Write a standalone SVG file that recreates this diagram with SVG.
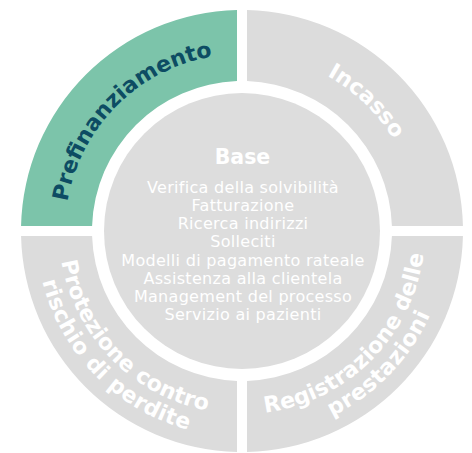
<svg xmlns="http://www.w3.org/2000/svg" xmlns:xlink="http://www.w3.org/1999/xlink" width="472" height="453" viewBox="0 0 472 453">
<style>
.seg{fill:#dcdcdc}
.green{fill:#7cc4aa}
.lbl{font-family:"DejaVu Sans","Liberation Sans",sans-serif;font-weight:700;font-size:22px;fill:#ffffff}
.dark{fill:#0d4c63}
.item{font-family:"DejaVu Sans","Liberation Sans",sans-serif;font-size:16px;letter-spacing:0.3px;fill:#ffffff;text-anchor:middle}
.title{font-family:"DejaVu Sans","Liberation Sans",sans-serif;font-weight:700;font-size:20.5px;fill:#ffffff;text-anchor:middle}
</style>
<defs>
<path id="arcTop" d="M65,231 A177,177 0 0 1 419,231"/>
<path id="arcBot1" d="M59,231 A183,183 0 0 0 425,231"/>
<path id="arcBot2" d="M36,231 A206,206 0 0 0 448,231"/>
</defs>
<rect width="472" height="453" fill="#ffffff"/>
<g id="prefinanziamento">
<path class="green" d="M21.06,226 A221,221 0 0 1 237,10.06 L237,81.08 A150,150 0 0 0 92.08,226 Z"/>
<text class="lbl dark" text-anchor="middle"><textPath href="#arcTop" xlink:href="#arcTop" startOffset="25%" textLength="219" lengthAdjust="spacing">Prefinanziamento</textPath></text>
</g>
<g id="incasso">
<path class="seg" d="M247,10.06 A221,221 0 0 1 462.94,226 L391.92,226 A150,150 0 0 0 247,81.08 Z"/>
<text class="lbl" text-anchor="middle"><textPath href="#arcTop" xlink:href="#arcTop" startOffset="74.3%" textLength="93" lengthAdjust="spacing">Incasso</textPath></text>
</g>
<g id="registrazione">
<path class="seg" d="M462.94,236 A221,221 0 0 1 247,451.94 L247,380.92 A150,150 0 0 0 391.92,236 Z"/>
<text class="lbl" text-anchor="middle"><textPath href="#arcBot1" xlink:href="#arcBot1" startOffset="75%" textLength="241" lengthAdjust="spacing">Registrazione delle</textPath></text>
<text class="lbl" text-anchor="middle"><textPath href="#arcBot2" xlink:href="#arcBot2" startOffset="75.5%" textLength="144" lengthAdjust="spacing">prestazioni</textPath></text>
</g>
<g id="protezione">
<path class="seg" d="M237,451.94 A221,221 0 0 1 21.06,236 L92.08,236 A150,150 0 0 0 237,380.92 Z"/>
<text class="lbl" text-anchor="middle"><textPath href="#arcBot1" xlink:href="#arcBot1" startOffset="24.6%" textLength="222" lengthAdjust="spacing">Protezione contro</textPath></text>
<text class="lbl" text-anchor="middle"><textPath href="#arcBot2" xlink:href="#arcBot2" startOffset="24.7%" textLength="218" lengthAdjust="spacing">rischio di perdite</textPath></text>
</g>
<g id="base">
<circle cx="242" cy="231" r="138" fill="#dddddd"/>
<text class="title" x="242.5" y="163.5">Base</text>
<text class="item" x="243" y="193">Verifica della solvibilità</text>
<text class="item" x="243" y="211">Fatturazione</text>
<text class="item" x="243" y="229.2">Ricerca indirizzi</text>
<text class="item" x="243" y="247.3">Solleciti</text>
<text class="item" x="243" y="265.6">Modelli di pagamento rateale</text>
<text class="item" x="243" y="283.8">Assistenza alla clientela</text>
<text class="item" x="243" y="302">Management del processo</text>
<text class="item" x="243" y="320.2">Servizio ai pazienti</text>
</g>
<g id="connectors"></g>
</svg>
